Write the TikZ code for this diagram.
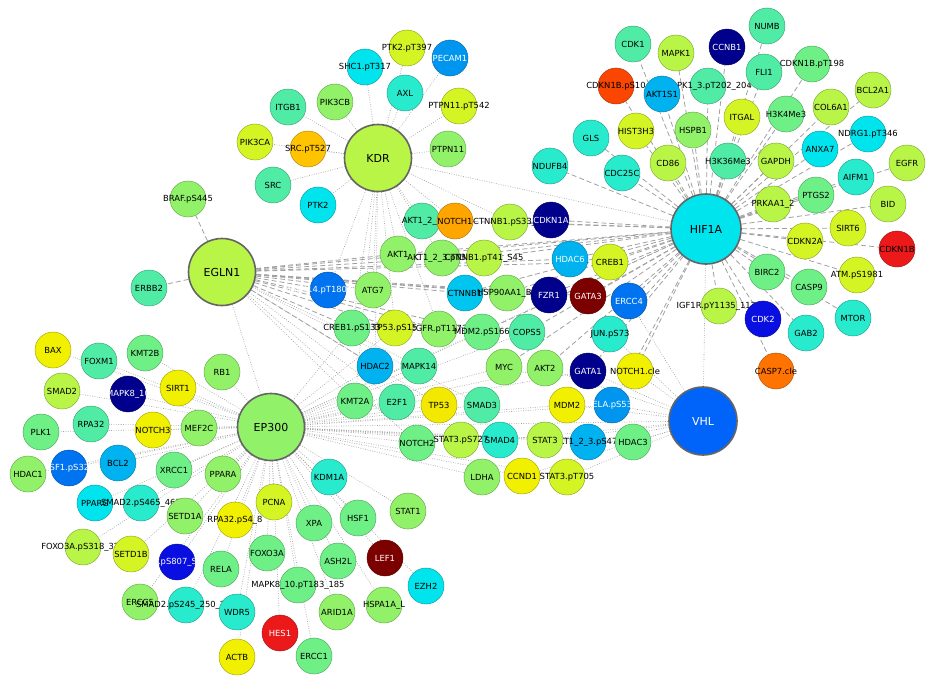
\documentclass[tikz,border=0pt]{standalone}
\usepackage{fontspec}
\setmainfont{DejaVu Sans}
\usetikzlibrary{backgrounds}
\definecolor{navyc}{RGB}{0,0,140}
\definecolor{bluec}{RGB}{10,15,225}
\definecolor{azurec}{RGB}{0,115,240}
\definecolor{deepskyc}{RGB}{0,150,240}
\definecolor{skyc}{RGB}{0,178,240}
\definecolor{cyanc}{RGB}{0,228,238}
\definecolor{aquac}{RGB}{40,234,205}
\definecolor{turqc}{RGB}{80,236,165}
\definecolor{mgreenc}{RGB}{110,240,135}
\definecolor{lgreenc}{RGB}{145,242,105}
\definecolor{ygreenc}{RGB}{185,245,70}
\definecolor{limec}{RGB}{212,245,35}
\definecolor{yellowc}{RGB}{240,240,0}
\definecolor{amberc}{RGB}{255,195,0}
\definecolor{orangec}{RGB}{255,165,0}
\definecolor{dorangec}{RGB}{255,115,0}
\definecolor{vermc}{RGB}{250,70,0}
\definecolor{redc}{RGB}{235,25,25}
\definecolor{maroonc}{RGB}{125,0,0}
\definecolor{vhlc}{RGB}{0,100,250}
\definecolor{hubborder}{RGB}{100,100,100}
\definecolor{edgegray}{RGB}{160,160,160}
\tikzset{
    gene/.style={circle, fill=#1, draw=#1!65!black, line width=0.4pt,
        minimum size=36pt, inner sep=0pt, font=\genefont},
    hub/.style={circle, fill=#1, draw=hubborder, line width=1.6pt,
        minimum size=67pt, inner sep=0pt, font=\hubfont},
    wlab/.style={text=white},
    dashline/.style={draw=edgegray, line width=0.8pt, dash pattern=on 5pt off 3pt},
    dotline/.style={draw=edgegray, line width=0.6pt, dash pattern=on 0.8pt off 1.6pt}
}
\newcommand{\genefont}{\fontsize{8.4}{10}\selectfont}
\newcommand{\hubfont}{\fontsize{11}{13}\selectfont}
\newcommand{\nlab}[1]{\makebox[0pt]{#1}}

\begin{document}
\begin{tikzpicture}[x=1pt, y=-1pt]
    \useasboundingbox (0,0) rectangle (935,683);

    % hubs
    \node[hub=ygreenc] (kdr) at (378,158) {KDR};
    \node[hub=ygreenc] (egln) at (222,272) {EGLN1};
    \node[hub=cyanc, minimum size=70pt] (hif) at (706,229) {HIF1A};
    \node[hub=lgreenc] (ep) at (271,427) {EP300};
    \node[hub=vhlc, wlab, minimum size=68pt] (vhl) at (703,421) {VHL};

    % KDR side
    \node[gene=limec] (ptkp) at (407,48) {\nlab{PTK2.pT397}};
    \node[gene=deepskyc, wlab] (pecam) at (450,58) {\nlab{PECAM1}};
    \node[gene=cyanc] (shcp) at (365,67) {\nlab{SHC1.pT317}};
    \node[gene=aquac] (axl) at (405,93) {\nlab{AXL}};
    \node[gene=limec] (ptpnp) at (459,106) {\nlab{PTPN11.pT542}};
    \node[gene=turqc] (itgb) at (288,107) {\nlab{ITGB1}};
    \node[gene=lgreenc] (pikcb) at (335,102) {\nlab{PIK3CB}};
    \node[gene=limec] (pikca) at (255,142) {\nlab{PIK3CA}};
    \node[gene=amberc] (srcp) at (308,149) {\nlab{SRC.pT527}};
    \node[gene=lgreenc] (ptpn) at (448,149) {\nlab{PTPN11}};
    \node[gene=turqc] (src) at (273,185) {\nlab{SRC}};
    \node[gene=cyanc] (ptk) at (318,205) {\nlab{PTK2}};
    \node[gene=lgreenc] (braf) at (188,199) {\nlab{BRAF.pS445}};
    \node[gene=turqc] (erbb) at (149,288) {\nlab{ERBB2}};

    % HIF1A side
    \node[gene=turqc] (cdk1) at (633,44) {\nlab{CDK1}};
    \node[gene=ygreenc] (mapk1) at (676,53) {\nlab{MAPK1}};
    \node[gene=turqc] (numb) at (767,26) {\nlab{NUMB}};
    \node[gene=turqc] (mapkt) at (708,86) {\nlab{MAPK1\_3.pT202\_204}};
    \node[gene=navyc, wlab] (ccnb) at (727,47) {\nlab{CCNB1}};
    \node[gene=vermc] (cdkns) at (616,86) {\nlab{CDKN1B.pS10}};
    \node[gene=skyc] (akts) at (662,94) {\nlab{AKT1S1}};
    \node[gene=turqc] (fli) at (764,72) {\nlab{FLI1}};
    \node[gene=mgreenc] (cdknt) at (812,64) {\nlab{CDKN1B.pT198}};
    \node[gene=ygreenc] (bcla) at (873,90) {\nlab{BCL2A1}};
    \node[gene=limec] (hist) at (636,131) {\nlab{HIST3H3}};
    \node[gene=lgreenc] (hspb) at (693,130) {\nlab{HSPB1}};
    \node[gene=limec] (itgal) at (742,117) {\nlab{ITGAL}};
    \node[gene=mgreenc] (hkfour) at (786,114) {\nlab{H3K4Me3}};
    \node[gene=ygreenc] (colsix) at (831,107) {\nlab{COL6A1}};
    \node[gene=aquac] (gls) at (591,138) {\nlab{GLS}};
    \node[gene=ygreenc] (cdeig) at (668,163) {\nlab{CD86}};
    \node[gene=turqc] (hkthir) at (728,161) {\nlab{H3K36Me3}};
    \node[gene=ygreenc] (gapdh) at (776,161) {\nlab{GAPDH}};
    \node[gene=cyanc] (ndrg) at (868,134) {\nlab{NDRG1.pT346}};
    \node[gene=cyanc] (anxa) at (820,149) {\nlab{ANXA7}};
    \node[gene=ygreenc] (egfr) at (907,163) {\nlab{EGFR}};
    \node[gene=aquac] (nduf) at (550,166) {\nlab{NDUFB4}};
    \node[gene=aquac] (cdcc) at (622,173) {\nlab{CDC25C}};
    \node[gene=aquac] (aifm) at (856,177) {\nlab{AIFM1}};
    \node[gene=mgreenc] (ptgs) at (816,195) {\nlab{PTGS2}};
    \node[gene=ygreenc] (prkaa) at (773,204) {\nlab{PRKAA1\_2}};
    \node[gene=ygreenc] (bid) at (888,204) {\nlab{BID}};
    \node[gene=limec] (sirtsix) at (848,228) {\nlab{SIRT6}};
    \node[gene=limec] (cdkntwo) at (805,241) {\nlab{CDKN2A}};
    \node[gene=redc] (cdknb) at (897,249) {\nlab{CDKN1B}};
    \node[gene=mgreenc] (birc) at (767,272) {\nlab{BIRC2}};
    \node[gene=limec] (atm) at (857,275) {\nlab{ATM.pS1981}};
    \node[gene=mgreenc] (caspn) at (809,287) {\nlab{CASP9}};
    \node[gene=ygreenc] (igf) at (719,306) {\nlab{IGF1R.pY1135\_1136}};
    \node[gene=bluec, wlab] (cdktwo) at (763,319) {\nlab{CDK2}};
    \node[gene=aquac] (mtor) at (853,318) {\nlab{MTOR}};
    \node[gene=aquac] (gab) at (806,333) {\nlab{GAB2}};
    \node[gene=dorangec] (caspsv) at (776,371) {\nlab{CASP7.cle}};

    % shared middle
    \node[gene=turqc] (akta) at (422,221) {\nlab{AKT1\_2\_3}};
    \node[gene=orangec] (notcha) at (455,221) {\nlab{NOTCH1}};
    \node[gene=ygreenc] (ctnnbpa) at (510,222) {\nlab{CTNNB1.pS33\_37}};
    \node[gene=navyc, wlab] (cdkna) at (551,220) {\nlab{CDKN1A}};
    \node[gene=lgreenc] (akt1) at (398,254) {\nlab{AKT1}};
    \node[gene=lgreenc] (aktt) at (442,258) {\nlab{AKT1\_2\_3.pT308}};
    \node[gene=ygreenc] (ctnnbpb) at (484,258) {\nlab{CTNNB1.pT41\_S45}};
    \node[gene=skyc, wlab] (hdacsix) at (570,259) {\nlab{HDAC6}};
    \node[gene=limec] (creb) at (610,262) {\nlab{CREB1}};
    \node[gene=azurec, wlab] (mapkp) at (328,290) {\nlab{MAPK14.pT180\_Y182}};
    \node[gene=lgreenc] (atg) at (373,290) {\nlab{ATG7}};
    \node[gene=skyc!60!cyanc] (ctnnb) at (465,293) {\nlab{CTNNB1}};
    \node[gene=lgreenc] (hsp) at (507,293) {\nlab{HSP90AA1\_B1}};
    \node[gene=navyc, wlab] (fzr) at (549,295) {\nlab{FZR1}};
    \node[gene=maroonc, wlab] (gatath) at (588,296) {\nlab{GATA3}};
    \node[gene=azurec, wlab] (ercc4) at (629,301) {\nlab{ERCC4}};
    \node[gene=lgreenc] (egfrp) at (439,329) {\nlab{EGFR.pT1173}};
    \node[gene=mgreenc] (mdmp) at (482,332) {\nlab{MDM2.pS166}};
    \node[gene=turqc] (cops) at (527,332) {\nlab{COPS5}};
    \node[gene=limec] (tpp) at (395,328) {\nlab{TP53.pS15}};
    \node[gene=mgreenc] (crebp) at (352,328) {\nlab{CREB1.pS133}};
    \node[gene=aquac] (jun) at (610,334) {\nlab{JUN.pS73}};
    \node[gene=skyc] (hdactwo) at (375,366) {\nlab{HDAC2}};
    \node[gene=turqc] (mapkft) at (419,366) {\nlab{MAPK14}};
    \node[gene=lgreenc] (myc) at (504,367) {\nlab{MYC}};
    \node[gene=lgreenc] (akttwo) at (545,368) {\nlab{AKT2}};
    \node[gene=navyc, wlab] (gataone) at (588,371) {\nlab{GATA1}};
    \node[gene=yellowc] (notchc) at (635,371) {\nlab{NOTCH1.cle}};
    \node[gene=mgreenc] (kmta) at (355,401) {\nlab{KMT2A}};
    \node[gene=turqc] (etwo) at (397,402) {\nlab{E2F1}};
    \node[gene=yellowc!90!orangec] (tpf) at (439,405) {\nlab{TP53}};
    \node[gene=turqc] (smadth) at (482,405) {\nlab{SMAD3}};
    \node[gene=deepskyc, wlab] (relap) at (612,405) {\nlab{RELA.pS536}};
    \node[gene=yellowc] (mdm) at (567,405) {\nlab{MDM2}};
    \node[gene=mgreenc] (notchtwo) at (417,443) {\nlab{NOTCH2}};
    \node[gene=aquac] (smadf) at (500,440) {\nlab{SMAD4}};
    \node[gene=ygreenc] (statp) at (461,440) {\nlab{STAT3.pS727}};
    \node[gene=skyc] (aktp) at (588,442) {\nlab{AKT1\_2\_3.pS473}};
    \node[gene=ygreenc] (stat) at (545,440) {\nlab{STAT3}};
    \node[gene=mgreenc] (hdacth) at (633,442) {\nlab{HDAC3}};
    \node[gene=lgreenc] (ldha) at (482,477) {\nlab{LDHA}};
    \node[gene=yellowc] (ccnd) at (522,476) {\nlab{CCND1}};
    \node[gene=limec] (statt) at (567,477) {\nlab{STAT3.pT705}};

    % EP300 side
    \node[gene=yellowc] (bax) at (53,350) {\nlab{BAX}};
    \node[gene=turqc] (foxm) at (99,361) {\nlab{FOXM1}};
    \node[gene=mgreenc] (kmtb) at (145,353) {\nlab{KMT2B}};
    \node[gene=lgreenc] (rbone) at (222,372) {\nlab{RB1}};
    \node[gene=ygreenc] (smadtwo) at (62,391) {\nlab{SMAD2}};
    \node[gene=navyc, wlab] (mapkeight) at (128,394) {\nlab{MAPK8\_10}};
    \node[gene=yellowc] (sirtone) at (178,388) {\nlab{SIRT1}};
    \node[gene=mgreenc] (plk) at (41,432) {\nlab{PLK1}};
    \node[gene=turqc] (rpa) at (91,424) {\nlab{RPA32}};
    \node[gene=yellowc] (notchth) at (153,430) {\nlab{NOTCH3}};
    \node[gene=lgreenc] (mef) at (199,428) {\nlab{MEF2C}};
    \node[gene=azurec, wlab] (hsfp) at (69,468) {\nlab{HSF1.pS326}};
    \node[gene=lgreenc] (hdacone) at (28,474) {\nlab{HDAC1}};
    \node[gene=skyc] (bcl) at (118,463) {\nlab{BCL2}};
    \node[gene=mgreenc] (xrcc) at (174,470) {\nlab{XRCC1}};
    \node[gene=lgreenc] (ppara) at (223,474) {\nlab{PPARA}};
    \node[gene=cyanc] (pparg) at (95,503) {\nlab{PPARG}};
    \node[gene=aquac] (smadpa) at (141,503) {\nlab{SMAD2.pS465\_467}};
    \node[gene=lgreenc] (setda) at (185,516) {\nlab{SETD1A}};
    \node[gene=yellowc] (rpap) at (235,520) {\nlab{RPA32.pS4\_8}};
    \node[gene=bluec, wlab] (rbp) at (177,562) {\nlab{RB1.pS807\_S811}};
    \node[gene=ygreenc] (foxop) at (83,547) {\nlab{FOXO3A.pS318\_321}};
    \node[gene=limec] (setdb) at (131,554) {\nlab{SETD1B}};
    \node[gene=mgreenc] (rela) at (221,569) {\nlab{RELA}};
    \node[gene=lgreenc] (erccf) at (140,602) {\nlab{ERCC5}};
    \node[gene=aquac] (smadpb) at (186,605) {\nlab{SMAD2.pS245\_250\_255}};
    \node[gene=aquac] (wdr) at (237,612) {\nlab{WDR5}};
    \node[gene=yellowc] (actb) at (237,657) {\nlab{ACTB}};
    \node[gene=limec] (pcna) at (274,502) {\nlab{PCNA}};
    \node[gene=aquac] (kdm) at (329,477) {\nlab{KDM1A}};
    \node[gene=mgreenc] (xpa) at (314,523) {\nlab{XPA}};
    \node[gene=mgreenc] (hsf) at (358,518) {\nlab{HSF1}};
    \node[gene=lgreenc] (statone) at (408,511) {\nlab{STAT1}};
    \node[gene=mgreenc] (foxo) at (267,553) {\nlab{FOXO3A}};
    \node[gene=mgreenc] (ash) at (338,561) {\nlab{ASH2L}};
    \node[gene=maroonc, wlab] (lef) at (385,558) {\nlab{LEF1}};
    \node[gene=cyanc] (ezh) at (426,586) {\nlab{EZH2}};
    \node[gene=mgreenc] (mapkpt) at (298,585) {\nlab{MAPK8\_10.pT183\_185}};
    \node[gene=lgreenc] (arid) at (337,612) {\nlab{ARID1A}};
    \node[gene=lgreenc] (hspa) at (384,605) {\nlab{HSPA1A\_L}};
    \node[gene=redc, wlab] (hes) at (280,633) {\nlab{HES1}};
    \node[gene=mgreenc] (ercco) at (314,656) {\nlab{ERCC1}};

    % edges behind the nodes
    \begin{scope}[on background layer]
        \fill[white] (0,0) rectangle (935,683);
        \foreach \t in {ptkp,pecam,shcp,axl,ptpnp,itgb,pikcb,pikca,srcp,ptpn,src,ptk,
                akta,notcha,akt1,aktt,atg,mapkp,crebp,tpp,hdactwo,ctnnbpa,kmta,egfrp,hif}
            \draw[dotline] (kdr) -- (\t);
        \foreach \t in {braf,erbb,hif,akt1,aktt,ctnnb,hdacsix,creb,mapkp,atg,crebp,tpp,
                hdactwo,egfrp,mdmp,hsp,fzr,gatath}
            \draw[dashline] (egln) -- (\t);
        \foreach \t in {kmta,etwo,mapkft,tpf,smadth,notchtwo,ep}
            \draw[dotline] (egln) -- (\t);
        \foreach \t in {cdk1,mapk1,ccnb,numb,mapkt,cdkns,akts,fli,cdknt,bcla,hist,hspb,itgal,
                hkfour,colsix,gls,cdeig,hkthir,gapdh,ndrg,anxa,egfr,nduf,cdcc,aifm,ptgs,prkaa,
                bid,sirtsix,cdkntwo,cdknb,birc,atm,caspn,igf,cdktwo,mtor,gab,caspsv,
                cdkna,ctnnbpa,ctnnbpb,hdacsix,creb,ctnnb,hsp,fzr,gatath,ercc4,jun,cops,
                akttwo,gataone,notchc,relap,mdmp,myc,aktt,akt1,notcha}
            \draw[dashline] (hif) -- (\t);
        \foreach \t in {hif,notchc,relap,hdacth,aktp,mdm,stat,gataone,jun,ercc4,smadf,
                ccnd,statt,akttwo,ep}
            \draw[dotline] (vhl) -- (\t);
        \foreach \t in {bax,foxm,kmtb,rbone,smadtwo,mapkeight,sirtone,plk,rpa,notchth,mef,
                hdacone,hsfp,bcl,xrcc,ppara,pparg,smadpa,setda,rpap,foxop,setdb,rbp,rela,
                erccf,smadpb,wdr,actb,pcna,kdm,xpa,hsf,statone,foxo,ash,lef,ezh,mapkpt,
                arid,hspa,hes,ercco,kmta,etwo,tpf,smadth,notchtwo,statp,smadf,stat,ldha,
                ccnd,statt,hdactwo,mapkft,crebp,myc,mdm,akttwo,hdacth,aktp,relap,gataone,
                tpp,mdmp,cops,hif}
            \draw[dotline] (ep) -- (\t);
    \end{scope}

\end{tikzpicture}
\end{document}
